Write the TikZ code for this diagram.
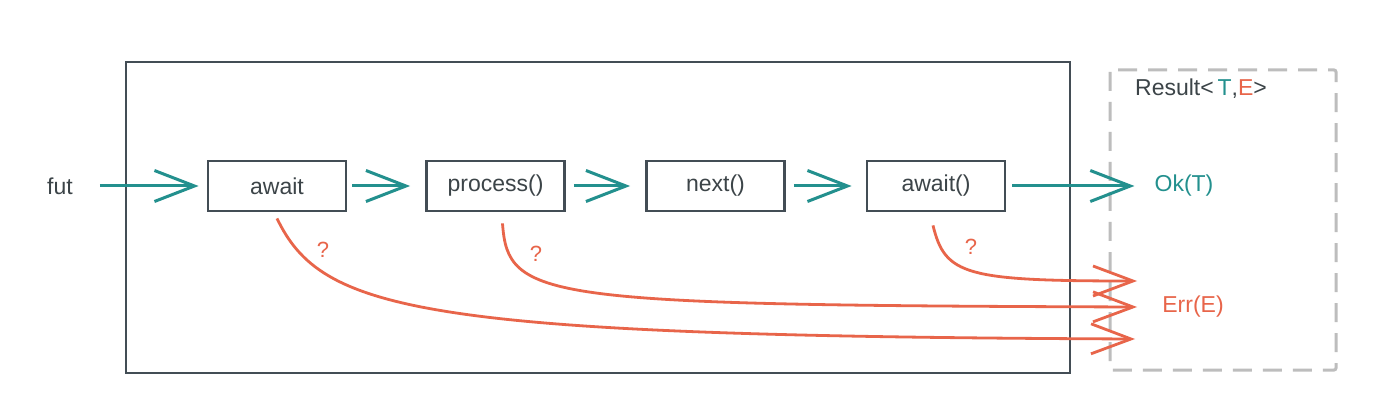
\documentclass[tikz,border=0pt]{standalone}
\usepackage{fontspec}
\setmainfont{Liberation Sans}
\usetikzlibrary{arrows.meta}
\definecolor{tealc}{HTML}{23908E}
\definecolor{redc}{HTML}{E8654A}
\definecolor{boxc}{HTML}{434D55}
\definecolor{txtc}{HTML}{3C4448}
\definecolor{dashc}{HTML}{BDBDBD}
\tikzset{
  stepbox/.style={draw=boxc, line width=2.8pt, minimum width=138pt, minimum height=50pt, inner sep=0pt, text=txtc, font=\fontsize{23}{27}\selectfont},
  lbl/.style={inner sep=0pt, font=\fontsize{23}{27}\selectfont},
  tealarrow/.style={draw=tealc, line width=3pt, -{Straight Barb[length=40pt,width=31pt,line width=3pt]}},
  redarrow/.style={draw=redc, line width=2.8pt, -{Straight Barb[length=40pt,width=30pt,line width=2.8pt]}},
  qmark/.style={inner sep=0pt, text=redc, font=\fontsize{22}{26}\selectfont}
}
\begin{document}
\begin{tikzpicture}[x=1pt,y=-1pt]
\useasboundingbox (0,0) rectangle (1376,406);
\fill[white] (0,0) rectangle (1376,406);
% outer boxes
\draw[boxc, line width=2.8pt] (126,62) rectangle (1070,373);
\draw[dashc, line width=3pt, dash pattern=on 19pt off 11pt, rounded corners=2pt] (1110,70) rectangle (1336,370);
% nodes
\node[lbl, text=txtc] (fut) at (60,186) {fut};
\node[stepbox] (await) at (277,186) {await};
\node[stepbox] (process) at (495.5,186) {process()};
\node[stepbox] (next) at (715.5,186) {next()};
\node[stepbox] (await2) at (936,186) {await()};
\node[lbl, text=tealc] (ok) at (1184,186) {Ok(T)};
\node[lbl, text=redc] (err) at (1193,307) {Err(E)};
\node[lbl, text=txtc] (result) at (1201,89) {Result<\,{\color{tealc}T},{\color{redc}E}>};
% teal flow
\draw[tealarrow, shorten <=27pt, shorten >=8pt] (fut.east) -- (await.west);
\draw[tealarrow, shorten <=5pt, shorten >=15pt] (await.east) -- (process.west);
\draw[tealarrow, shorten <=8pt, shorten >=15pt] (process.east) -- (next.west);
\draw[tealarrow, shorten <=8pt, shorten >=14pt] (next.east) -- (await2.west);
\draw[tealarrow, shorten <=6pt, shorten >=20pt] (await2.east) -- (ok.west);
% error endpoints
\coordinate (e1) at (1137,281);
\coordinate (e2) at (1137,307);
\coordinate (e3) at (1135,339);
\draw[redarrow] ([yshift=-6pt]await.south) .. controls (322,312) and (420,336) .. (e3);
\draw[redarrow] ([xshift=7pt,yshift=-11pt]process.south) .. controls (508,300) and (540,305) .. (e2);
\draw[redarrow] ([xshift=-3pt,yshift=-13pt]await2.south) .. controls (945,275) and (965,281) .. (e1);
% question marks
\node[qmark] (q1) at (323,250) {?};
\node[qmark] (q2) at (536,254) {?};
\node[qmark] (q3) at (971,247) {?};
\end{tikzpicture}
\end{document}
